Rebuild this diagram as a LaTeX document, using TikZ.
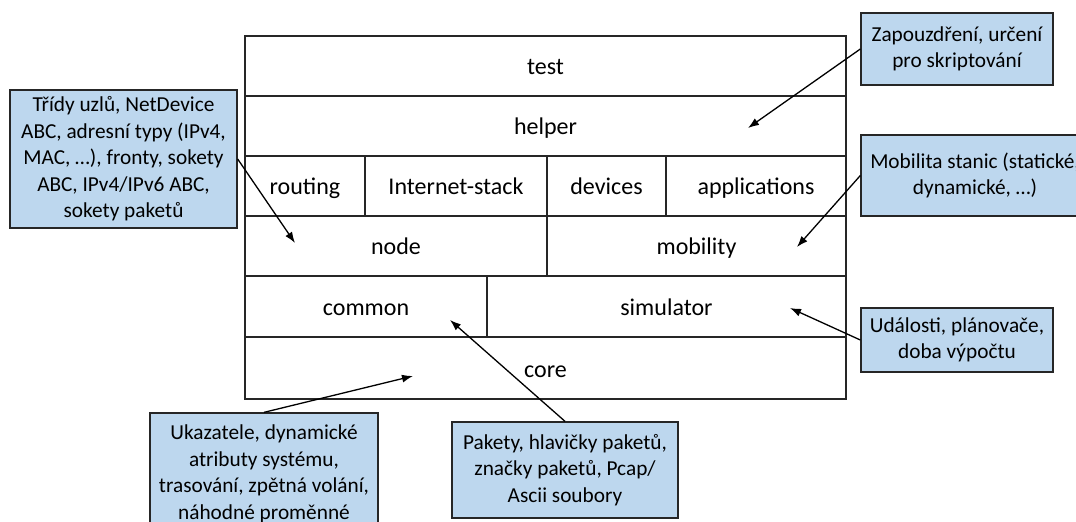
\documentclass[tikz,border=0pt]{standalone}
\usepackage{fontspec}
\setmainfont{Carlito}
\usetikzlibrary{arrows.meta}
\definecolor{callout}{HTML}{BDD7EE}
\definecolor{edge}{HTML}{262626}
\begin{document}
\begin{tikzpicture}[x=1bp,y=-1bp,
  every node/.style={text=black},
  cell/.style={draw=edge, line width=1.3bp, inner sep=0pt, anchor=center, text height=20bp, text depth=2bp, font=\fontsize{24bp}{29bp}\selectfont},
  note/.style={draw=edge, fill=callout, line width=1.3bp, inner sep=0pt, align=center, font=\fontsize{21.3bp}{26.5bp}\selectfont},
  pointer/.style={draw=black, line width=1.3bp, -{Latex[length=11bp,width=8bp]}}]
\useasboundingbox (0,0) rectangle (1076,522);
\clip (0,0) rectangle (1076,522);
% layers
\node[cell, minimum width=601bp, minimum height=60bp] (test) at (545.5,66) {test};
\node[cell, minimum width=601bp, minimum height=60bp] (helper) at (545.5,126) {helper};
\node[cell, minimum width=120bp, minimum height=60bp] (routing) at (305,186) {routing};
\node[cell, minimum width=182bp, minimum height=60bp] (inet) at (456,186) {Internet-stack};
\node[cell, minimum width=119bp, minimum height=60bp] (devices) at (606.5,186) {devices};
\node[cell, minimum width=180bp, minimum height=60bp] (apps) at (756,186) {applications};
\node[cell, minimum width=302bp, minimum height=60bp] (node) at (396,246) {node};
\node[cell, minimum width=299bp, minimum height=60bp] (mobility) at (696.5,246) {mobility};
\node[cell, minimum width=242bp, minimum height=61bp] (common) at (366,306.5) {common};
\node[cell, minimum width=359bp, minimum height=61bp] (simulator) at (666.5,306.5) {simulator};
\node[cell, minimum width=601bp, minimum height=62bp] (core) at (545.5,368) {core};
% callouts
\node[note, minimum width=227bp, minimum height=138bp] (c1) at (123.5,159) {Třídy uzlů, NetDevice\\ABC, adresní typy (IPv4,\\MAC, …), fronty, sokety\\ABC, IPv4/IPv6 ABC,\\sokety paketů};
\node[note, minimum width=192bp, minimum height=72bp] (c2) at (957,49) {Zapouzdření, určení\\pro skriptování};
\node[note, minimum width=228bp, minimum height=81bp] (c3) at (975,175.5) {Mobilita stanic (statické,\\dynamické, …)};
\node[note, minimum width=192bp, minimum height=64bp] (c4) at (957,340) {Události, plánovače,\\doba výpočtu};
\node[note, minimum width=228bp, minimum height=122bp] (c5) at (264,474) {Ukazatele, dynamické\\atributy systému,\\trasování, zpětná volání,\\náhodné proměnné};
\node[note, minimum width=226bp, minimum height=96bp] (c6) at (565,470) {Pakety, hlavičky paketů,\\značky paketů, Pcap/\\Ascii soubory};
% arrow targets
\coordinate (t1) at (295,243);
\coordinate (t2) at (748,128);
\coordinate (t3) at (797,247);
\coordinate (t4) at (790,308);
\coordinate (t5) at (413,376);
\coordinate (t6) at (450,320);
\draw[pointer] (c1.east) -- (t1);
\draw[pointer] (c2.west) -- (t2);
\draw[pointer] (c3.west) -- (t3);
\draw[pointer] (c4.west) -- (t4);
\draw[pointer] (c5.north) -- (t5);
\draw[pointer] (c6.north) -- (t6);
\end{tikzpicture}
\end{document}
